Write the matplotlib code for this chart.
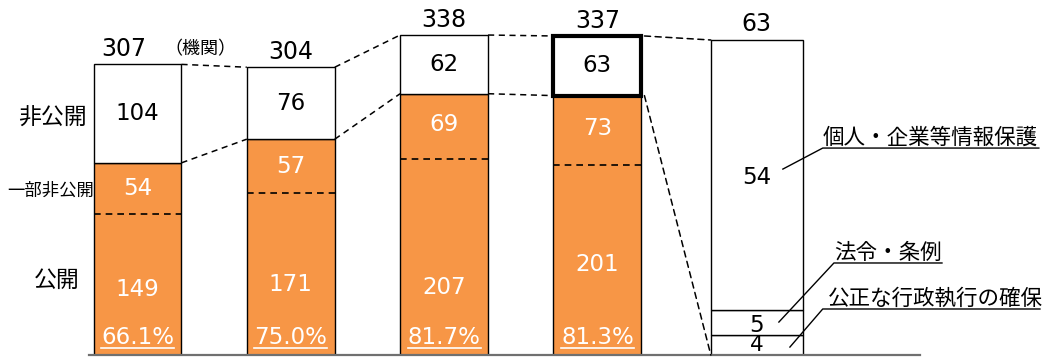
import matplotlib.pyplot as plt
from matplotlib.patches import ConnectionPatch
from matplotlib.lines import Line2D

# counts per year (機関): 非公開 / 一部非公開 / 公開
closed = [104, 76, 62, 63]
partial = [54, 57, 69, 73]
opened = [149, 171, 207, 201]

# breakdown of the latest 非公開 count by reason
reasons = ["公正な行政執行の確保", "法令・条例", "個人・企業等情報保護"]
reason_counts = [4, 5, 54]

ORANGE = "#F79646"
JP = ["Noto Sans CJK JP", "DejaVu Sans"]
plt.rcParams["font.family"] = ["DejaVu Sans", "Noto Sans CJK JP"]

totals = [c + p + o for c, p, o in zip(closed, partial, opened)]
rates = [(p + o) / t * 100 for p, o, t in zip(partial, opened, totals)]

fig = plt.figure(figsize=(10.45, 3.57), dpi=100)
ax = fig.add_axes([0, 2 / 357, 1, 355 / 357])
ax.set_xlim(-0.897, 5.92)
ax.set_ylim(0, 375)
ax.axis("off")
ax2 = ax.twinx()
ax2.set_ylim(0, 71)
ax2.axis("off")

x = [0, 1, 2, 3]
w = 0.574
NUM = 16.5

# orange part (公開 + 一部非公開) with a dashed split
opened_plus = [p + o for p, o in zip(partial, opened)]
ax.bar(x, opened_plus, w, color=ORANGE, edgecolor="black", linewidth=1)
for i in x:
    ax.plot([i - w / 2, i + w / 2], [opened[i], opened[i]], color="black",
            linestyle=(0, (4, 3)), linewidth=1.2)
# white 非公開 part
for i in x:
    lw = 3 if i == 3 else 1
    ax.bar(i, closed[i], w, bottom=opened_plus[i], color="white",
           edgecolor="black", linewidth=lw, zorder=3 if i == 3 else 2)

# value labels
pub_label_y = [69, 74, 71, 96]
pct_texts = []
for i in x:
    ax.text(i, opened_plus[i] + closed[i] / 2, str(closed[i]), ha="center",
            va="center", fontsize=NUM, color="black", zorder=4)
    ax.text(i, opened[i] + partial[i] / 2 + (2 if i > 1 else 0), str(partial[i]),
            ha="center", va="center", fontsize=NUM, color="white")
    ax.text(i, pub_label_y[i], str(opened[i]), ha="center", va="center",
            fontsize=NUM, color="white")
    pct_texts.append(ax.text(i, 18, f"{rates[i]:.1f}%", ha="center",
                             va="center", fontsize=16.5, color="white"))
    ax.text(i - (0.09 if i == 0 else 0), totals[i] + 16, str(totals[i]),
            ha="center", va="center", fontsize=17)

ax.text(0.41, 323, "（機関）", ha="center", va="center", fontsize=13, family=JP)
ax.text(-0.558, 250, "非公開", ha="center", va="center", fontsize=16.5, family=JP)
ax.text(-0.564, 174, "一部非公開", ha="center", va="center", fontsize=12.5,
        family=JP)
ax.text(-0.525, 79, "公開", ha="center", va="center", fontsize=16.5, family=JP)

# connecting dashed lines between years
dash = dict(color="black", linestyle=(0, (4, 3)), linewidth=1.1)
for i in range(3):
    ax.plot([i + w / 2, i + 1 - w / 2], [totals[i], totals[i + 1]], **dash)
    ax.plot([i + w / 2, i + 1 - w / 2], [opened_plus[i], opened_plus[i + 1]], **dash)

# breakdown bar on its own scale
x5, w5 = 4.04, 0.6
bottom = 0
for n in reason_counts:
    ax2.bar(x5, n, w5, bottom=bottom, color="white", edgecolor="black",
            linewidth=1)
    bottom += n
ax2.text(x5, sum(reason_counts) + 3.2, str(sum(reason_counts)), ha="center",
         va="center", fontsize=17)
ax2.text(x5, 35.5, str(reason_counts[2]), ha="center", va="center", fontsize=NUM)
ax2.text(x5, 6, str(reason_counts[1]), ha="center", va="center", fontsize=NUM)
ax2.text(x5, 2.0, str(reason_counts[0]), ha="center", va="center", fontsize=15.5)

for ya, yb in [(totals[3], sum(reason_counts)), (opened_plus[3], 0)]:
    con = ConnectionPatch(xyA=(3 + w / 2 + 0.02, ya), coordsA=ax.transData,
                          xyB=(x5 - w5 / 2, yb), coordsB=ax2.transData, **dash)
    fig.add_artist(con)

# reason labels with leader lines (drawn above the breakdown bar)
leaders = [
    (reasons[2], [(4.21, 196.4), (4.47, 218.6), (5.88, 218.6)], 4.47, 230),
    (reasons[1], [(4.184, 34.8), (4.543, 97.2), (5.248, 97.2)], 4.543, 108),
    (reasons[0], [(4.256, 8.4), (4.47, 48.6), (5.887, 48.6)], 4.504, 59.5),
]
for label, pts, tx, ty in leaders:
    ax2.plot([p[0] for p in pts], [p[1] for p in pts], transform=ax.transData,
             color="black", linewidth=1, clip_on=False)
    ax2.text(tx, ty, label, transform=ax.transData, ha="left", va="center",
             fontsize=15.5, family=JP)

# baseline
ax2.plot([-0.316, 5.105], [0, 0], color="#707070", linewidth=1.6, clip_on=False,
         zorder=5)

# underline the percentages
fig.canvas.draw()
renderer = fig.canvas.get_renderer()
inv = fig.transFigure.inverted()
for t in pct_texts:
    bb = t.get_window_extent(renderer)
    (x0, y0), (x1, _) = inv.transform([(bb.x0, bb.y0 + 1), (bb.x1, bb.y0 + 1)])
    fig.add_artist(Line2D([x0, x1], [y0, y0], transform=fig.transFigure,
                          color="white", linewidth=1.2))

fig.savefig("out.png", dpi=100)
